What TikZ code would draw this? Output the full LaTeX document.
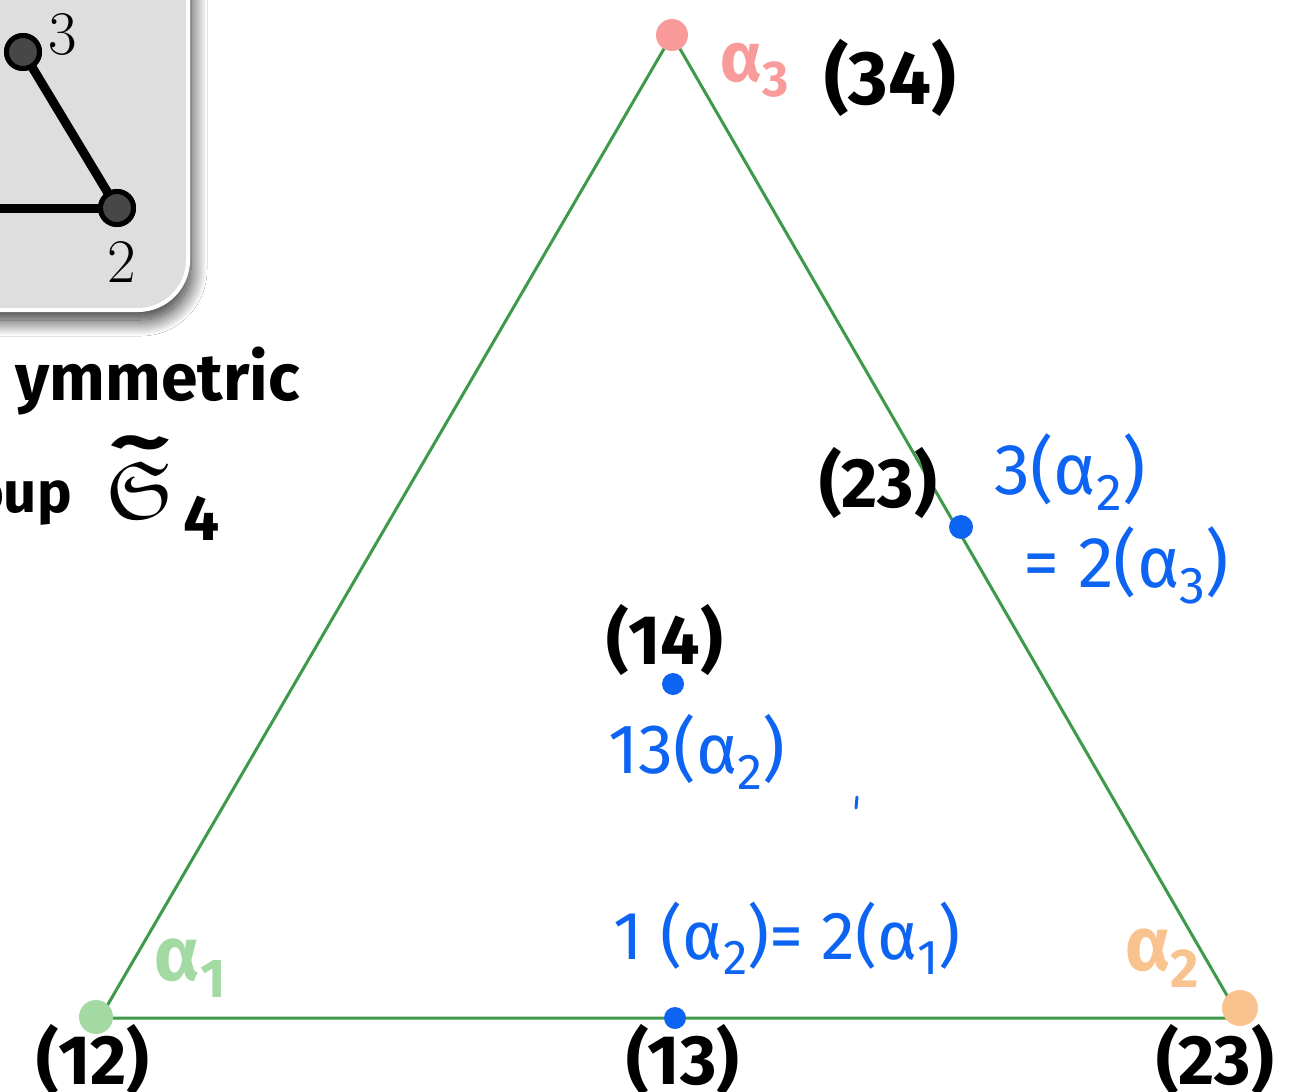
\documentclass[tikz,border=0pt]{standalone}
\usepackage{fontspec}
\usepackage{amssymb}
\usepackage{graphicx}
\newfontfamily\hand{Fira Sans}
\newcommand\hsub[1]{\raisebox{-0.22em}{\scalebox{0.72}{#1}}}
\usetikzlibrary{shadows.blur}
\definecolor{tri}{HTML}{3E9A4A}
\definecolor{pen}{HTML}{0E64F2}
\definecolor{pinkc}{HTML}{F99B9B}
\definecolor{greenc}{HTML}{A3D9A3}
\definecolor{orangec}{HTML}{F8C38E}
\definecolor{boxgray}{HTML}{DEDEDE}
\definecolor{nodegray}{HTML}{474747}
\tikzset{
  blk/.style={font=\hand\bfseries\fontsize{#1}{#1}\selectfont, text=black, inner sep=0pt},
  blu/.style={font=\hand\fontsize{#1}{#1}\selectfont, text=pen, inner sep=0pt},
  col/.style 2 args={font=\hand\bfseries\fontsize{#2}{#2}\selectfont, text=#1, inner sep=0pt},
  triedge/.style={draw=tri, line width=3pt, line join=miter},
  cdot/.style={circle, fill=#1, inner sep=0pt},
  gnode/.style={circle, fill=nodegray, draw=black, line width=5pt, minimum size=33pt, inner sep=0pt},
  gedge/.style={draw=black, line width=9pt},
  lm/.style={font=\fontsize{62}{62}\selectfont, inner sep=0pt},
}
\begin{document}
\begin{tikzpicture}[x=1pt, y=-1pt]
\useasboundingbox (0,0) rectangle (1299,1092);
\clip (0,0) rectangle (1299,1092);
\fill[white] (0,0) rectangle (1299,1092);

% inset box with graph
\path[fill=boxgray, draw=white, line width=4pt, rounded corners=50pt,
  blur shadow={shadow xshift=3pt, shadow yshift=-10pt, shadow blur radius=16pt,
    shadow blur steps=40, shadow opacity=85}]
  (-90,-90) rectangle (188,310);
\coordinate (L) at (-40,208);
\node[gnode] (g3) at (23,52) {};
\node[gnode] (g2) at (117,208) {};
\draw[gedge] (L) -- (g2.center);
\draw[gedge] (g3.center) -- (g2.center);
\node[gnode] at (g3) {};
\node[gnode] at (g2) {};
\node[lm] (l3) at (63,35) {3};
\node[lm] (l2) at (122,262) {2};

% handwritten caption
\node[blk=66, anchor=base east] (sym) at (300,400) {ymmetric};
\node[blk=58, anchor=base east] (grp) at (72,512) {oup};
\node[blk=82] (S4) at (140,490) {$\mathfrak S$};
\node[blk=80, xscale=1.5] (S4t) at (140,452) {\textasciitilde};
\node[blk=64] (S4i) at (202,518) {4};

% triangle
\coordinate (A) at (672,35);
\coordinate (B) at (100,1018);
\coordinate (C) at (1240,1018);
\draw[triedge] (A) -- (B) -- (C) -- cycle;

\node[cdot=pinkc, minimum size=32pt] (dA) at (672,35) {};
\node[cdot=greenc, minimum size=34pt] (dB) at (96,1017) {};
\node[cdot=orangec, minimum size=36pt] (dC) at (1240,1008) {};

\node[cdot=pen, minimum size=24pt] (mR) at (961,527) {};
\node[cdot=pen, minimum size=22pt] (mI) at (673,684) {};
\node[cdot=pen, minimum size=22pt] (mB) at (675,1018) {};

\coordinate (t1) at (857,797);
\coordinate (t2) at (856,808);
\draw[pen, line width=3pt, line cap=round] (t1) -- (t2);

% vertex labels
\node[col={pinkc}{70}] (a3) at (755,70) {α\hsub{3}};
\node[blk=76] (v34) at (890,78) {(34)};
\node[col={greenc}{76}] (a1) at (190,968) {α\hsub{1}};
\node[blk=70] (v12) at (93,1060) {(12)};
\node[col={orangec}{76}] (a2) at (1162,958) {α\hsub{2}};
\node[blk=70] (v23b) at (1215,1060) {(23)};

% edge / centre labels
\node[blk=70] (v23) at (878,483) {(23)};
\node[blu=72] (e1) at (1070,472) {3(α\hsub{2})};
\node[blu=72] (e2) at (1126,565) {= 2(α\hsub{3})};
\node[blk=70] (v14) at (665,640) {(14)};
\node[blu=70] (e3) at (697,752) {13(α\hsub{2})};
\node[blu=68] (e4) at (787,938) {1 (α\hsub{2})= 2(α\hsub{1})};
\node[blk=70] (v13) at (683,1060) {(13)};
\end{tikzpicture}
\end{document}
